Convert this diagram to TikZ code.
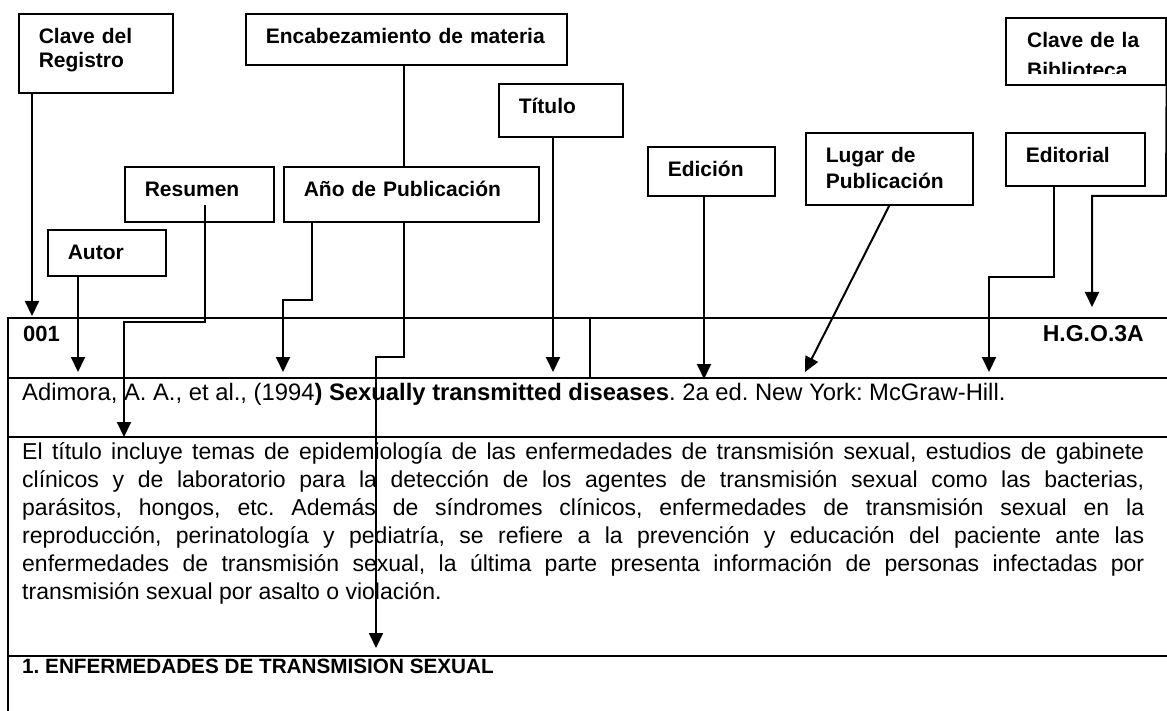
\documentclass[tikz,border=0pt]{standalone}
\usepackage{fontspec}
\setmainfont{Liberation Sans}
\usetikzlibrary{arrows.meta,backgrounds}

\tikzset{
  etiqueta/.style={draw, fill=white, line width=1.6pt, anchor=north west,
    inner xsep=20pt, inner ysep=0pt, text height=30pt, align=left,
    font=\bfseries\fontsize{21}{25}\selectfont},
  flecha/.style={->, line width=2pt},
  tabla/.style={line width=2pt},
  texto/.style={inner sep=0pt, font=\fontsize{23}{28}\selectfont}
}

\begin{document}
\frenchspacing
\begin{tikzpicture}[x=1pt, y=-1pt, >={Triangle[length=15pt,width=14pt]}]
  \useasboundingbox (0,0) rectangle (1167,711);

  % cuadros de las etiquetas
  \node[etiqueta, text width=114pt, text depth=49pt, font=\bfseries\fontsize{21}{24}\selectfont] (registro) at (18,13) {Clave del\\Registro};
  \node[etiqueta, text width=281pt, text depth=21pt] (encabezamiento) at (245,13) {Encabezamiento de materia};
  \node[etiqueta, text width=84pt, text depth=23pt] (titulo) at (498,83) {Título};
  \node[etiqueta, text width=87pt, text depth=19pt] (edicion) at (647,146) {Edición};
  \node[etiqueta, text width=127pt, text depth=42pt, font=\bfseries\fontsize{21}{26}\selectfont] (lugar) at (805,132) {Lugar de\\Publicación};
  \node[etiqueta, text width=99pt, text depth=23pt] (editorial) at (1005,132) {Editorial};
  \node[etiqueta, text width=109pt, text depth=25pt] (resumen) at (124,166) {Resumen};
  \node[etiqueta, text width=215pt, text depth=25pt] (anio) at (283,166) {Año de Publicación};
  \node[etiqueta, text width=78pt, text depth=16pt] (autor) at (47,229) {Autor};
  \node[etiqueta, text width=120pt, text depth=37pt] (biblioteca) at (1005,17) {};
  \begin{scope}
    \clip (1006,18) rectangle (1165,74);
    \node[anchor=north west, inner sep=0pt, text width=130pt, text height=30pt, align=left,
      font=\bfseries\fontsize{21}{30}\selectfont] (biblioteca-texto) at (1027,17) {Clave de la\\Biblioteca};
  \end{scope}

  % tabla de la ficha
  \draw[tabla] (8,318) -- (1167,318);
  \draw[tabla] (8,378) -- (1167,378);
  \draw[tabla] (8,437) -- (1167,437);
  \draw[tabla] (8,656) -- (1167,656);
  \draw[tabla] (8,317) -- (8,711);
  \draw[line width=1.6pt] (590,318) -- (590,378);

  \node[texto, anchor=base west, font=\bfseries\fontsize{22}{26}\selectfont] (clave-num) at (23,341) {001};
  \node[texto, anchor=base east, font=\bfseries\fontsize{23}{26}\selectfont] (clave-bib) at (1144,341) {H.G.O.3A};
  \node[texto, anchor=base west, font=\fontsize{23.8}{28}\selectfont] (referencia) at (22,400)
    {Adimora, A. A., et al., (1994\textbf{) Sexually transmitted diseases}. 2a ed. New York: McGraw-Hill.};
  \node[texto, anchor=north west, text height=17pt, text width=1122pt, align=justify] (sumario) at (22,442)
    {El título incluye temas de epidemiología de las enfermedades de transmisión sexual, estudios de gabinete\linebreak
     clínicos y de laboratorio para la detección de los agentes de transmisión sexual como las bacterias,\linebreak
     parásitos, hongos, etc. Además de síndromes clínicos, enfermedades de transmisión sexual en la\linebreak
     reproducción, perinatología y pediatría, se refiere a la prevención y educación del paciente ante las\linebreak
     enfermedades de transmisión sexual, la última parte presenta información de personas infectadas por\linebreak
     transmisión sexual por asalto o violación.};
  \node[texto, anchor=base west, font=\bfseries\fontsize{20.7}{24}\selectfont] (materia) at (22,673)
    {1. ENFERMEDADES DE TRANSMISION SEXUAL};

  % puntos de llegada y codos
  \coordinate (p-registro) at (32,316);
  \coordinate (p-autor) at (78,372);
  \coordinate (c-resumen) at (205,322);
  \coordinate (p-resumen) at (124,437);
  \coordinate (c-anio) at (312,300);
  \coordinate (p-anio) at (283,372);
  \coordinate (c-enc) at (404,357);
  \coordinate (p-enc) at (376,648);
  \coordinate (p-titulo) at (553,372);
  \coordinate (p-edicion) at (704,379);
  \coordinate (p-lugar) at (805,372);
  \coordinate (c-editorial) at (1054,277);
  \coordinate (p-editorial) at (989,372);
  \coordinate (c-biblioteca) at (1166,196);
  \coordinate (p-biblioteca) at (1092,307);

  % flechas
  \begin{scope}[on background layer]
    \draw[flecha] (encabezamiento.south -| c-enc) -- (c-enc) -| (p-enc);
  \end{scope}
  \draw[flecha] (registro.south -| p-registro) -- (p-registro);
  \draw[flecha] (autor.south -| p-autor) -- (p-autor);
  \draw[flecha] ([yshift=-39pt]resumen.north -| c-resumen) -- (c-resumen) -| (p-resumen);
  \draw[flecha] (anio.south -| c-anio) -- (c-anio) -| (p-anio);
  \draw[flecha] (titulo.south -| p-titulo) -- (p-titulo);
  \draw[flecha] (edicion.south -| p-edicion) -- (p-edicion);
  \draw[flecha] (lugar.south) -- (p-lugar);
  \draw[flecha] (editorial.south -| c-editorial) -- (c-editorial) -| (p-editorial);
  \draw[flecha] (biblioteca.south east) -- (c-biblioteca) -| (p-biblioteca);
\end{tikzpicture}
\end{document}
